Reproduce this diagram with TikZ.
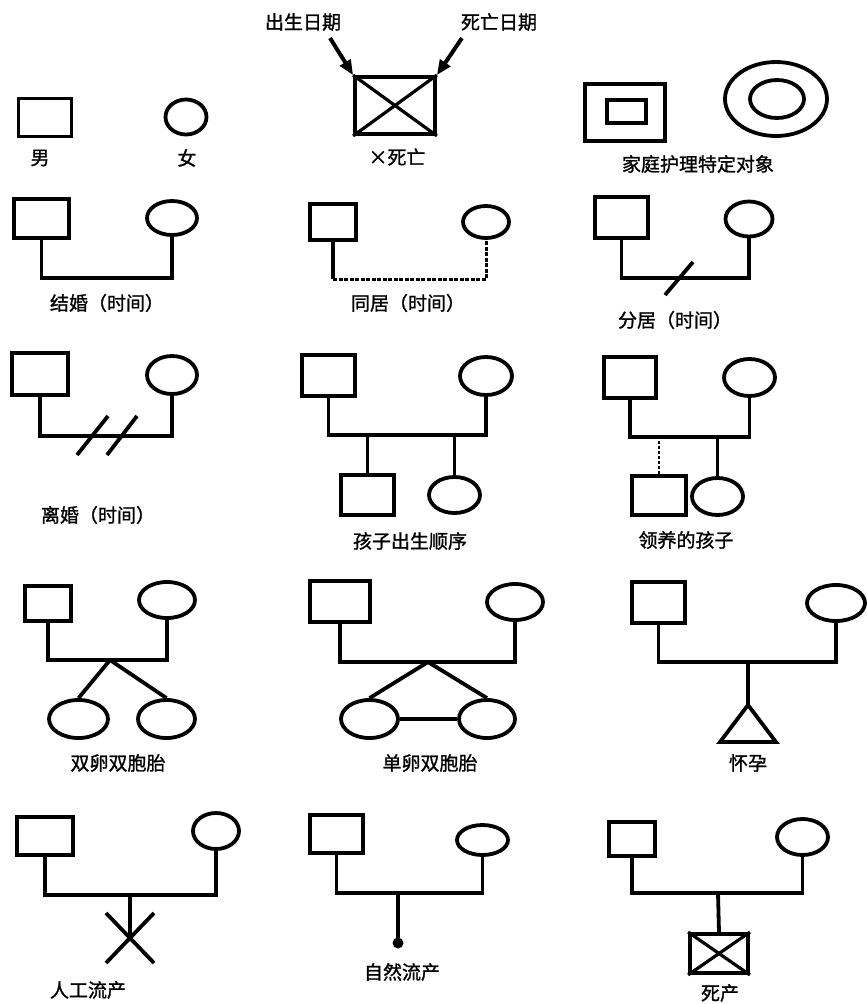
\documentclass[tikz,border=0pt]{standalone}
\usepackage{fontspec}
\setmainfont{Noto Sans CJK SC}
\newfontfamily\labfont{Noto Sans CJK SC}[FakeBold=1.2]
\usetikzlibrary{arrows.meta,calc,shapes.geometric}
\begin{document}
\begin{tikzpicture}[x=1pt,y=-1pt,
  sym/.style={draw, line width=3.8pt, inner sep=0pt},
  male/.style={sym, rectangle},
  female/.style={sym, ellipse},
  conn/.style={line width=3.8pt, line join=miter},
  crossline/.style={line width=3.2pt},
  dashedconn/.style={line width=3pt, dash pattern=on 4pt off 1.5pt},
  dottedconn/.style={line width=2.2pt, dash pattern=on 3pt off 2pt},
  lab/.style={font=\labfont\fontsize{19}{19}\selectfont, inner sep=0pt},
  arr/.style={line width=4pt, -{Triangle[length=15pt,width=12pt]}}
]
\fill[white] (0,0) rectangle (867,1004);
\useasboundingbox (0,0) rectangle (867,1004);

% ---------- Row 1 ----------
\node[male, minimum width=53pt, minimum height=38pt] (m1) at (45,117.5) {};
\node[lab] (l1) at (40,158) {男};
\node[female, minimum width=41pt, minimum height=35pt] (f1) at (186,117) {};
\node[lab] (l2) at (187,158) {女};

\node[male, minimum width=80pt, minimum height=57pt] (dbox) at (395,105.5) {};
\draw[crossline] (dbox.north west) -- (dbox.south east) (dbox.north east) -- (dbox.south west);
\node[lab] (l3) at (397,157) {×死亡};
\node[lab] (lb) at (303,22) {出生日期};
\node[lab] (ld) at (499,22) {死亡日期};
\coordinate (a1) at (330,38);
\coordinate (a2) at (462,38);
\draw[arr] (a1) -- (dbox.north west);
\draw[arr] (a2) -- (dbox.north east);

\node[male, minimum width=80pt, minimum height=57pt] (hs1) at (625,112.5) {};
\node[male, minimum width=39pt, minimum height=23pt] (hs2) at (626.5,111.5) {};
\node[female, minimum width=102pt, minimum height=74pt] (he1) at (776,99) {};
\node[female, minimum width=54pt, minimum height=38pt] (he2) at (777,99) {};
\node[lab] (l4) at (698,164) {家庭护理特定对象};

% ---------- Row 2 ----------
% marriage
\node[male, minimum width=55pt, minimum height=39pt] (m2) at (41.5,218.5) {};
\node[female, minimum width=50pt, minimum height=34pt] (f2) at (172,218) {};
\coordinate (h2) at (100,278);
\draw[conn] (m2.south) |- (h2) -| (f2.south);
\node[lab] (l5) at (107,303) {结婚（时间）};

% cohabitation
\node[male, minimum width=46pt, minimum height=36pt] (m3) at (333,222) {};
\node[female, minimum width=46pt, minimum height=32pt] (f3) at (486,222) {};
\coordinate (h3) at (400,279);
\draw[conn] (m3.south) -- (m3.south |- h3);
\draw[dashedconn] (m3.south |- h3) -| (f3.south);
\node[lab] (l6) at (408,303) {同居（时间）};

% separation
\node[male, minimum width=53pt, minimum height=41pt] (m4) at (621.5,217.5) {};
\node[female, minimum width=47pt, minimum height=35pt] (f4) at (749,219) {};
\coordinate (h4) at (679,278);
\draw[conn] (m4.south) |- (h4) -| (f4.south);
\draw[conn] ($(h4)+(-14,17)$) -- ($(h4)+(14,-16)$);
\node[lab] (l7) at (675,320) {分居（时间）};

% ---------- Row 3 ----------
% divorce
\node[male, minimum width=56pt, minimum height=42pt] (m5) at (40,374) {};
\node[female, minimum width=50pt, minimum height=38pt] (f5) at (172,375) {};
\coordinate (h5) at (100,436);
\draw[conn] (m5.south) |- (h5) -| (f5.south);
\draw[conn] (77,455) -- (108,416);
\draw[conn] (107,455) -- (137,416);
\node[lab] (l8) at (98,515) {离婚（时间）};

% children birth order
\node[male, minimum width=53pt, minimum height=41pt] (m6) at (328.5,375.5) {};
\node[female, minimum width=52pt, minimum height=38pt] (f6) at (486,376) {};
\coordinate (h6) at (400,435);
\draw[conn] (m6.south) |- (h6) -| (f6.south);
\node[male, minimum width=53pt, minimum height=40pt] (k1) at (367.5,495) {};
\node[female, minimum width=51pt, minimum height=36pt] (k2) at (454.5,495) {};
\draw[conn] (k1.north) -- (k1.north |- h6);
\draw[conn] (k2.north) -- (k2.north |- h6);
\node[lab] (l9) at (410,541) {孩子出生顺序};

% adopted child
\node[male, minimum width=52pt, minimum height=41pt] (m7) at (630,377.5) {};
\node[female, minimum width=51pt, minimum height=37pt] (f7) at (749.5,377.5) {};
\coordinate (h7) at (690,437);
\draw[conn] (m7.south) |- (h7) -| (f7.south);
\node[male, minimum width=54pt, minimum height=39pt] (k3) at (659,495.5) {};
\node[female, minimum width=51pt, minimum height=37pt] (k4) at (717.5,496.5) {};
\draw[dottedconn] (k3.north) -- (k3.north |- h7);
\draw[conn] (k4.north) -- (k4.north |- h7);
\node[lab] (l10) at (686,540) {领养的孩子};

% ---------- Row 4 ----------
% dizygotic twins
\node[male, minimum width=46pt, minimum height=35pt] (m8) at (48,603.5) {};
\node[female, minimum width=56pt, minimum height=36pt] (f8) at (167,600) {};
\coordinate (h8) at (110,660);
\draw[conn] (m8.south) |- (h8) -| (f8.south);
\node[female, minimum width=59pt, minimum height=38pt] (t1) at (78.5,719) {};
\node[female, minimum width=57pt, minimum height=38pt] (t2) at (166.5,719) {};
\draw[conn] (h8) -- (t1.north);
\draw[conn] (h8) -- (t2.north);
\node[lab] (l11) at (118,763) {双卵双胞胎};

% monozygotic twins
\node[male, minimum width=60pt, minimum height=41pt] (m9) at (340,601.5) {};
\node[female, minimum width=56pt, minimum height=36pt] (f9) at (515,602) {};
\coordinate (h9) at (428,662);
\draw[conn] (m9.south) |- (h9) -| (f9.south);
\node[female, minimum width=57pt, minimum height=38pt] (t3) at (369.5,719) {};
\node[female, minimum width=56pt, minimum height=38pt] (t4) at (487,719) {};
\draw[conn] (h9) -- (t3.north);
\draw[conn] (h9) -- (t4.north);
\draw[conn] (t3.east) -- (t4.west);
\node[lab] (l12) at (430,763) {单卵双胞胎};

% pregnancy
\node[male, minimum width=53pt, minimum height=41pt] (m10) at (658.5,602.5) {};
\node[female, minimum width=58pt, minimum height=36pt] (f10) at (836,603) {};
\coordinate (h10) at (748,662);
\draw[conn] (m10.south) |- (h10) -| (f10.south);
\coordinate (pa) at (748,705);
\coordinate (pr) at (776,742);
\coordinate (pl) at (720,742);
\draw[conn] (h10) -- (pa);
\draw[conn] (pa) -- (pr) -- (pl) -- cycle;
\node[lab] (l13) at (748,763) {怀孕};

% ---------- Row 5 ----------
% induced abortion
\node[male, minimum width=56pt, minimum height=38pt] (m11) at (45,836) {};
\node[female, minimum width=46pt, minimum height=36pt] (f11) at (216,831) {};
\coordinate (h11) at (130,895);
\draw[conn] (m11.south) |- (h11) -| (f11.south);
\coordinate (xc) at (130,938);
\draw[conn] (h11) -- (xc);
\draw[conn] ($(xc)+(-24,-25)$) -- ($(xc)+(24,25)$);
\draw[conn] ($(xc)+(24,-25)$) -- ($(xc)+(-24,25)$);
\node[lab] (l14) at (88,990) {人工流产};

% spontaneous abortion
\node[male, minimum width=53pt, minimum height=38pt] (m12) at (336.5,834) {};
\node[female, minimum width=51pt, minimum height=30pt] (f12) at (482.5,840) {};
\coordinate (h12) at (398,893);
\draw[conn] (m12.south) |- (h12) -| (f12.south);
\node[circle, fill, minimum size=11pt, inner sep=0pt] (sa) at (398,943) {};
\draw[conn] (h12) -- (sa.center);
\node[lab] (l15) at (402,972) {自然流产};

% stillbirth
\node[male, minimum width=46pt, minimum height=34pt] (m13) at (632,839) {};
\node[female, minimum width=51pt, minimum height=36pt] (f13) at (802.5,837) {};
\coordinate (h13) at (718,893);
\draw[conn] (m13.south) |- (h13) -| (f13.south);
\node[male, minimum width=58pt, minimum height=39pt] (sb) at (719,953.5) {};
\draw[crossline] (sb.north west) -- (sb.south east) (sb.north east) -- (sb.south west);
\draw[conn] (h13) -- (sb.north);
\node[lab] (l16) at (720,993) {死产};
\end{tikzpicture}
\end{document}
